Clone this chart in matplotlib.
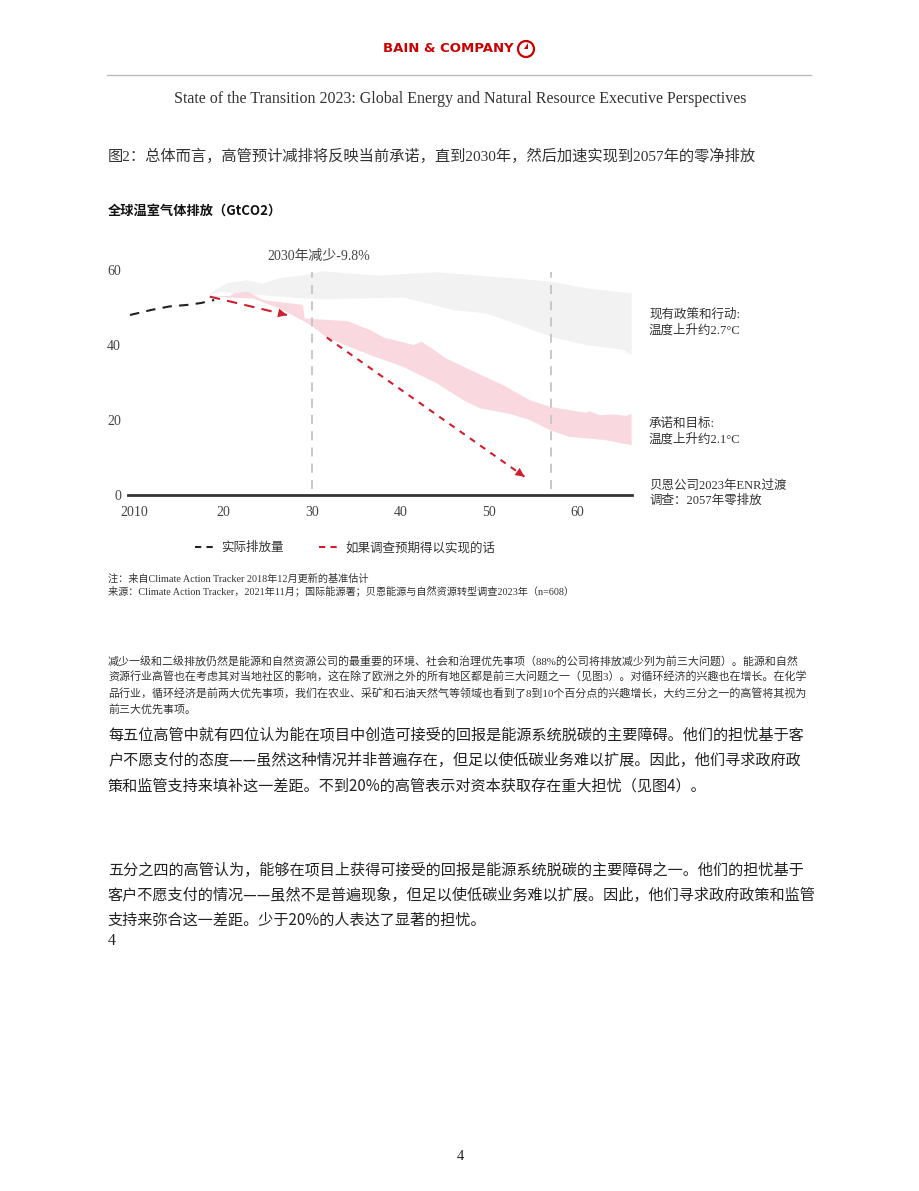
import matplotlib.pyplot as plt
import matplotlib.patches as mpatches
from matplotlib.lines import Line2D

plt.rcParams['font.family'] = ['Liberation Serif', 'Noto Sans CJK SC']

# actual emissions (black dashed)
actual_years = [2009.5, 2012, 2014, 2016, 2017.5, 2019]
actual_vals = [48.0, 49.4, 50.3, 50.7, 51.2, 52.0]

# survey expectation (red dashed arrows)
survey1_years = [2018.5, 2027.2]
survey1_vals = [52.9, 48.0]
survey2_years = [2031.7, 2054.0]
survey2_vals = [42.0, 4.9]

# current policies band (grey)
cur_up_years = [2018.2, 2020.4, 2022.7, 2024.5, 2026.4, 2029.4, 2031.3, 2034, 2037.7,
                2040.3, 2044.1, 2047.9, 2051.6, 2056.9, 2061, 2066.1]
cur_up_vals = [53.3, 56.4, 57.3, 56.3, 57.8, 58.7, 59.7, 59.1, 58.5,
               58.9, 59.4, 58.7, 58.0, 56.9, 55.1, 53.8]
cur_lo_years = [2018.2, 2019.7, 2024.2, 2029.4, 2031.7, 2034.7, 2037.7, 2040.3, 2042.2,
                2046, 2049.7, 2052.4, 2055.4, 2057.6, 2061, 2065.2, 2066.1]
cur_lo_vals = [53.3, 54.2, 53.3, 52.4, 52.2, 52.4, 52.5, 52.7, 51.6,
               49.3, 48.4, 46.2, 43.6, 41.8, 40.0, 38.7, 37.3]

# pledges and targets band (pink)
pl_up_years = [2018.5, 2020.8, 2021.2, 2022.8, 2024.5, 2029.0, 2029.2, 2030.9, 2034.0,
               2036.6, 2038.1, 2041.5, 2042.4, 2045.2, 2047.5, 2051.6, 2054.6, 2056.9,
               2061.0, 2061.3, 2062.5, 2064.1, 2065.5, 2066.1]
pl_up_vals = [52.9, 53.1, 53.8, 54.2, 52.0, 50.7, 47.1, 46.8, 46.4,
              44.0, 42.0, 40.0, 40.9, 36.4, 33.8, 29.3, 25.3, 23.5,
              21.9, 22.4, 21.3, 21.5, 21.1, 21.7]
pl_lo_years = [2018.5, 2023.4, 2026.5, 2029.2, 2030.0, 2031.7, 2034.7, 2036.6, 2040.3,
               2044.1, 2047.1, 2049.0, 2052.4, 2054.6, 2056.9, 2059.1, 2062.9, 2066.1]
pl_lo_vals = [52.9, 52.4, 49.6, 46.2, 45.1, 42.0, 39.1, 37.3, 34.2,
              29.8, 25.3, 23.1, 21.6, 20.0, 17.3, 15.5, 14.7, 13.3]

vlines = [2030, 2057]
xticks = [2010, 2020, 2030, 2040, 2050, 2060]
xticklabels = ['2010', '20', '30', '40', '50', '60']
yticks = [0, 20, 40, 60]

RED = '#cf1f2e'
TXT = '#333333'
W, H = 920, 1191


def fy(y):
    return 1 - y / H


def fx(x):
    return x / W


fig = plt.figure(figsize=(9.2, 11.91), dpi=100)

# header
fig.text(fx(448), fy(49), 'BAIN & COMPANY', family=['DejaVu Sans'], weight='bold',
         fontsize=9.5, color='#cc0000', ha='center', va='center')
fig.add_artist(mpatches.Ellipse((fx(526), fy(49)), 16 / W, 16 / H, fill=False,
                                ec='#cc0000', lw=1.6, transform=fig.transFigure))
fig.add_artist(mpatches.Polygon([(fx(524), fy(49)), (fx(528), fy(43)), (fx(528), fy(49))],
                                closed=True, fc='#cc0000', ec='none', transform=fig.transFigure))
fig.add_artist(Line2D([fx(107), fx(811)], [fy(75), fy(75)], color='#bbbbbb', lw=1))
fig.text(fx(460), fy(99), 'State of the Transition 2023: Global Energy and Natural Resource Executive Perspectives',
         fontsize=11.5, color=TXT, ha='center', va='center')
fig.text(fx(108), fy(156), '图2：总体而言，高管预计减排将反映当前承诺，直到2030年，然后加速实现到2057年的零净排放',
         fontsize=11, color=TXT, ha='left', va='center')
fig.text(fx(108), fy(211), '全球温室气体排放（GtCO2）', family=['Noto Sans CJK SC'], weight='bold',
         fontsize=9.5, color='#111111', ha='left', va='center')

# chart
x0, x1 = 2009.27, 2066.14
ax = fig.add_axes([fx(128), fy(495), fx(632) - fx(128), 62 * 3.75 / H])
ax.fill(cur_up_years + cur_lo_years[::-1], cur_up_vals + cur_lo_vals[::-1],
        color='#f2f2f2', lw=0, zorder=1)
ax.fill(pl_up_years + pl_lo_years[::-1], pl_up_vals + pl_lo_vals[::-1],
        color='#f9d9df', lw=0, zorder=2)
for v in vlines:
    ax.plot([v, v], [1.5, 59.5], color='#c4c4c4', lw=1.3, ls=(0, (5, 4)), zorder=3)
ax.plot(actual_years, actual_vals, color='#222222', lw=1.5, ls=(0, (4.5, 3.5)), zorder=4)
ax.plot(survey1_years, survey1_vals, color=RED, lw=1.5, ls=(0, (5, 3.5)), zorder=4)
ax.plot(survey2_years, survey2_vals, color=RED, lw=1.5, ls=(0, (3, 3)), zorder=4)
for yrs, vals in [(survey1_years, survey1_vals), (survey2_years, survey2_vals)]:
    dx = yrs[1] - yrs[0]
    dv = vals[1] - vals[0]
    ax.annotate('', xy=(yrs[1], vals[1]), xytext=(yrs[1] - dx * 0.08, vals[1] - dv * 0.08),
                arrowprops=dict(arrowstyle='-|>', color=RED, lw=0, mutation_scale=16,
                                shrinkA=0, shrinkB=0), zorder=5)
ax.axhline(0, color='#333333', lw=2, clip_on=False, zorder=6)
ax.set_xlim(x0, x1)
ax.set_ylim(0, 62)
for s in ax.spines.values():
    s.set_visible(False)
ax.set_xticks(xticks)
ax.set_xticklabels(xticklabels)
ax.set_yticks(yticks)
ax.tick_params(length=0, labelsize=10, labelcolor='#444444')
ax.tick_params(axis='x', pad=8)
ax.tick_params(axis='y', pad=5)
ax.text(2030.8, 63.5, '2030年减少-9.8%', fontsize=10, color='#444444', ha='center', va='center')

right_labels = [(314, '现有政策和行动:'), (330, '温度上升约2.7°C'),
                (424, '承诺和目标:'), (439, '温度上升约2.1°C'),
                (486, '贝恩公司2023年ENR过渡'), (501, '调查：2057年零排放')]
for y, t in right_labels:
    fig.text(fx(649), fy(y), t, fontsize=9, color=TXT, ha='left', va='center')

handles = [Line2D([], [], color='#222222', lw=1.5, ls=(0, (3, 2.5))),
           Line2D([], [], color=RED, lw=1.5, ls=(0, (3, 2.5)))]
fig.legend(handles, ['实际排放量', '如果调查预期得以实现的话'], loc='center',
           bbox_to_anchor=(fx(345), fy(548)), ncol=2, frameon=False, fontsize=9,
           handlelength=1.6, handletextpad=0.5, columnspacing=2.8, labelcolor=TXT)

fig.text(fx(108), fy(579), '注：来自Climate Action Tracker 2018年12月更新的基准估计',
         fontsize=7.3, color=TXT, ha='left', va='center')
fig.text(fx(108), fy(591), '来源：Climate Action Tracker，2021年11月；国际能源署；贝恩能源与自然资源转型调查2023年（n=608）',
         fontsize=7.3, color=TXT, ha='left', va='center')

para1 = ['减少一级和二级排放仍然是能源和自然资源公司的最重要的环境、社会和治理优先事项（88%的公司将排放减少列为前三大问题）。能源和自然',
         '资源行业高管也在考虑其对当地社区的影响，这在除了欧洲之外的所有地区都是前三大问题之一（见图3）。对循环经济的兴趣也在增长。在化学',
         '品行业，循环经济是前两大优先事项，我们在农业、采矿和石油天然气等领域也看到了8到10个百分点的兴趣增长，大约三分之一的高管将其视为',
         '前三大优先事项。']
for i, t in enumerate(para1):
    fig.text(fx(108), fy(661 + i * 16), t, fontsize=7.9, color=TXT, ha='left', va='center')

para2 = ['每五位高管中就有四位认为能在项目中创造可接受的回报是能源系统脱碳的主要障碍。他们的担忧基于客',
         '户不愿支付的态度——虽然这种情况并非普遍存在，但足以使低碳业务难以扩展。因此，他们寻求政府政',
         '策和监管支持来填补这一差距。不到20%的高管表示对资本获取存在重大担忧（见图4）。']
for i, t in enumerate(para2):
    fig.text(fx(108), fy(735 + i * 25.5), t, family=['Noto Sans CJK SC'], fontsize=10.9,
             color='#222222', ha='left', va='center')

para3 = ['五分之四的高管认为，能够在项目上获得可接受的回报是能源系统脱碳的主要障碍之一。他们的担忧基于',
         '客户不愿支付的情况——虽然不是普遍现象，但足以使低碳业务难以扩展。因此，他们寻求政府政策和监管',
         '支持来弥合这一差距。少于20%的人表达了显著的担忧。']
for i, t in enumerate(para3):
    fig.text(fx(108), fy(870 + i * 25), t, family=['Noto Sans CJK SC'], fontsize=10.9,
             color='#222222', ha='left', va='center')

fig.text(fx(108), fy(941), '4', fontsize=11.5, color='#222222', ha='left', va='center')
fig.text(fx(460), fy(1157), '4', fontsize=10.5, color='#222222', ha='center', va='center')

fig.savefig('out.png', dpi=100)
